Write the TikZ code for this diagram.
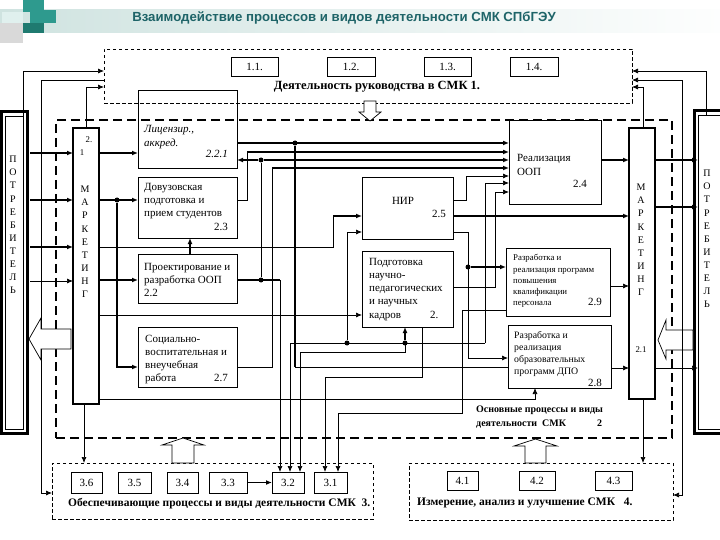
\documentclass[tikz,border=0pt]{standalone}
\usepackage{fontspec}
\setmainfont{Liberation Serif}
\newfontfamily\ttlfont{Liberation Sans}
\usetikzlibrary{arrows.meta,fit,calc}
\definecolor{teal1}{HTML}{2E9A8E}
\definecolor{teal2}{HTML}{1F7A70}
\definecolor{teallt}{HTML}{CFE3E0}
\definecolor{ttlcol}{HTML}{1E6468}
\begin{document}
\begin{tikzpicture}[x=1pt,y=-1pt,
  bx/.style={draw, line width=0.7pt, inner sep=0pt, outer sep=0pt},
  mk/.style={draw, line width=1.8pt, inner sep=0pt, outer sep=0pt},
  dsh/.style={draw, line width=0.6pt, dash pattern=on 3.5pt off 2.5pt, inner sep=0pt, outer sep=0pt},
  tdsh/.style={draw, line width=1.7pt, dash pattern=on 9pt off 5pt, inner sep=0pt, outer sep=0pt},
  thn/.style={line width=0.7pt},
  thk/.style={line width=1.7pt},
  arr/.style={-{Latex[length=6pt,width=5pt]}},
  dot/.style={circle, fill, inner sep=0pt, minimum size=5pt},
  txt/.style={inner sep=0pt, font=\fontsize{11}{13}\selectfont},
  sml/.style={inner sep=0pt, font=\fontsize{8.8}{11.4}\selectfont},
  mid/.style={inner sep=0pt, font=\fontsize{9.8}{12}\selectfont},
  lbl/.style={inner sep=0pt, font=\fontsize{11}{13}\selectfont\bfseries},
  vlet/.style={inner sep=0pt, align=center, font=\fontsize{10}{13.1}\selectfont},
  hol/.style={draw, line width=0.7pt, fill=white}
]
\useasboundingbox (0,0) rectangle (720,540);
% header band and decoration
\shade[left color=teallt, right color=white!96!teallt] (0,10) rectangle (720,33);
\fill[teal1] (23,0) rectangle (44,12);
\fill[white!85!teal1] (2,12) rectangle (23,23);
\fill[teal1] (30,10) rectangle (56,23);
\fill[teal2] (23,23) rectangle (44,33);
\fill[black!15] (0,23) rectangle (23,43);
\node[inner sep=0pt, text=ttlcol, font=\ttlfont\fontsize{13.2}{15}\selectfont\bfseries] (title) at (344,18) {Взаимодействие процессов и видов деятельности СМК СПбГЭУ};

% ---------- containers
\node[dsh, fit={(104,49)(632,103)}] (top) {};
\node[tdsh, fit={(56,120)(672,438)}] (main) {};
\node[dsh, fit={(52,463)(373,519)}] (s3) {};
\node[dsh, fit={(409,463)(673,520)}] (s4) {};

% top boxes
\node[bx, fit={(231,57)(278,76)}] (b11) {};
\node[bx, fit={(327,57)(375,76)}] (b12) {};
\node[bx, fit={(424,57)(471,76)}] (b13) {};
\node[bx, fit={(510,57)(558,76)}] (b14) {};
\node[txt] (t11) at (b11.center) {1.1.};
\node[txt] (t12) at (b12.center) {1.2.};
\node[txt] (t13) at (b13.center) {1.3.};
\node[txt] (t14) at (b14.center) {1.4.};
\node[lbl, font=\fontsize{12.5}{14}\selectfont\bfseries] (ttop) at (377,87) {Деятельность руководства в СМК 1.};

% block arrow down from top
\draw[hol] (364,101) -- (376,101) -- (376,112) -- (381,112) -- (370,121) -- (359,112) -- (364,112) -- cycle;

% consumers
\draw[line width=3pt] (1.5,112) rectangle (27,433);
\node[bx, fit={(5,116)(23.5,429)}] (pl) {};
\draw[line width=3pt] (694.5,111) rectangle (721,433);
\node[bx, fit={(698,115)(721,429)}] (pr) {};
\node[vlet, anchor=north] (tpl) at (13,156) {П\\О\\Т\\Р\\Е\\Б\\И\\Т\\Е\\Л\\Ь};
\node[vlet, anchor=north] (tpr) at (707,170) {П\\О\\Т\\Р\\Е\\Б\\И\\Т\\Е\\Л\\Ь};

% marketing
\node[mk, fit={(73,128)(99,404)}] (mkl) {};
\node[mk, fit={(629,128)(655,399)}] (mkr) {};
\node[vlet, anchor=north] (tml) at (85,186) {М\\А\\Р\\К\\Е\\Т\\И\\Н\\Г};
\node[vlet, anchor=north] (tmr) at (641,184) {М\\А\\Р\\К\\Е\\Т\\И\\Н\\Г};
\node[sml] (tml2) at (89,140) {2.};
\node[sml] (tml1) at (82,153) {1};
\node[sml] (tmr21) at (641,350) {2.1};

% inner boxes
\node[bx, fit={(138,90)(237,168)}] (lic) {};
\node[bx, fit={(138,177)(237,238)}] (dov) {};
\node[bx, fit={(138,254)(237,303)}] (proj) {};
\node[bx, fit={(138,327)(237,387)}] (soc) {};
\node[bx, fit={(362,177)(453,239)}] (nir) {};
\node[bx, fit={(362,251)(453,327)}] (podg) {};
\node[bx, fit={(509,120)(601,204)}] (real) {};
\node[bx, fit={(506,248)(610,316)}] (p29) {};
\node[bx, fit={(508,325)(611,388)}] (dpo) {};

\node[txt, anchor=base west, font=\fontsize{11}{13}\selectfont\itshape] (tlic1) at (144,133) {Лицензир.,};
\node[txt, anchor=base west, font=\fontsize{11}{13}\selectfont\itshape] (tlic2) at (144,147) {аккред.};
\node[txt, anchor=base east, font=\fontsize{11}{13}\selectfont\itshape] (tlic3) at (228,158) {2.2.1};

\node[txt, anchor=base west] (tdov1) at (144,190.5) {Довузовская};
\node[txt, anchor=base west] (tdov2) at (144,203.5) {подготовка и};
\node[txt, anchor=base west] (tdov3) at (144,216.5) {прием студентов};
\node[txt, anchor=base east] (tdov4) at (228,230.5) {2.3};

\node[txt, anchor=base west] (tpr1) at (144,270.5) {Проектирование и};
\node[txt, anchor=base west] (tpr2) at (144,283) {разработка ООП};
\node[txt, anchor=base west] (tpr3) at (144,296) {2.2};

\node[txt, anchor=base west] (tso1) at (145,342.5) {Социально-};
\node[txt, anchor=base west] (tso2) at (145,355.5) {воспитательная и};
\node[txt, anchor=base west] (tso3) at (145,368.5) {внеучебная};
\node[txt, anchor=base west] (tso4) at (145,381.5) {работа};
\node[txt, anchor=base east] (tso5) at (228,381.5) {2.7};

\node[txt, anchor=base] (tnir1) at (403,204.5) {НИР};
\node[txt, anchor=base east] (tnir2) at (446,217.5) {2.5};

\node[txt, anchor=base west] (tpo1) at (369,265.5) {Подготовка};
\node[txt, anchor=base west] (tpo2) at (369,278.5) {научно-};
\node[txt, anchor=base west] (tpo3) at (369,291.5) {педагогических};
\node[txt, anchor=base west] (tpo4) at (369,304.5) {и научных};
\node[txt, anchor=base west] (tpo5) at (369,318.5) {кадров};
\node[txt, anchor=base west] (tpo6) at (430,318.5) {2.};

\node[txt, anchor=base west] (tre1) at (517,161.5) {Реализация};
\node[txt, anchor=base west] (tre2) at (517,175.5) {ООП};
\node[txt, anchor=base west] (tre3) at (573,187.5) {2.4};

\node[sml, anchor=base west] (t291) at (513,260) {Разработка и};
\node[sml, anchor=base west] (t292) at (513,272) {реализация программ};
\node[sml, anchor=base west] (t293) at (513,283) {повышения};
\node[sml, anchor=base west] (t294) at (513,294.5) {квалификации};
\node[sml, anchor=base west] (t295) at (513,305.5) {персонала};
\node[txt, anchor=base west] (t296) at (588,305.5) {2.9};

\node[mid, anchor=base west] (t281) at (514,338.5) {Разработка и};
\node[mid, anchor=base west] (t282) at (514,350.5) {реализация};
\node[mid, anchor=base west] (t283) at (514,362.5) {образовательных};
\node[mid, anchor=base west] (t284) at (514,374) {программ ДПО};
\node[txt, anchor=base west] (t285) at (588,386.5) {2.8};

\node[lbl, anchor=base west, font=\fontsize{10}{13}\selectfont\bfseries] (tosn1) at (476,412.5) {Основные процессы и виды};
\node[lbl, anchor=base west, font=\fontsize{10}{13}\selectfont\bfseries] (tosn2) at (476,426.5) {деятельности\ \ СМК};
\node[lbl, anchor=base west, font=\fontsize{10}{13}\selectfont\bfseries] (tosn3) at (597,426.5) {2};

% section 3 boxes
\node[bx, fit={(71,472)(102,493)}] (b36) {};
\node[bx, fit={(118,472)(151,493)}] (b35) {};
\node[bx, fit={(167,472)(198,493)}] (b34) {};
\node[bx, fit={(209,472)(247,493)}] (b33) {};
\node[bx, fit={(272,472)(304,493)}] (b32) {};
\node[bx, fit={(314,472)(347,493)}] (b31) {};
\foreach \n/\t in {b36/3.6,b35/3.5,b34/3.4,b33/3.3,b32/3.2,b31/3.1}
  \node[txt] (t\n) at (\n.center) {\t};
\node[lbl, anchor=base west, font=\fontsize{11.5}{13}\selectfont\bfseries] (ts3) at (68,506.5) {Обеспечивающие процессы и виды деятельности СМК\ \ 3.};

% section 4 boxes
\node[bx, fit={(447,471)(478,490)}] (b41) {};
\node[bx, fit={(519,471)(555,490)}] (b42) {};
\node[bx, fit={(595,471)(632,490)}] (b43) {};
\foreach \n/\t in {b41/4.1,b42/4.2,b43/4.3}
  \node[txt] (t\n) at (\n.center) {\t};
\node[lbl, anchor=base west, font=\fontsize{11.5}{13}\selectfont\bfseries] (ts4) at (417,505.5) {Измерение, анализ и улучшение СМК\ \ \ 4.};

% hollow up arrows to main
\draw[hol] (172,463) -- (172,445) -- (162,445) -- (183,438) -- (204,445) -- (194,445) -- (194,463) -- cycle;
\draw[hol] (525,463) -- (525,446) -- (514,446) -- (535.5,439) -- (557,446) -- (546,446) -- (546,463) -- cycle;
% hollow arrows marketing <-> consumers
\draw[hol] (71,329) -- (41,329) -- (41,318) -- (29,339) -- (41,360) -- (41,349) -- (71,349) -- cycle;
\draw[hol] (693,330) -- (666,330) -- (666,320) -- (658,340) -- (666,359) -- (666,350) -- (693,350) -- cycle;

% ---------- external loops
\draw[thn,arr] (23,0 |- pl.north) -- (23,71) -- (top.west |- 0,71);
\draw[thn] (top.west |- 0,80) -- (41,80) -- (41,329);
\draw[thn,arr] (41,349) -- (41,493) -- (s3.west |- 0,493);
\draw[thn,arr] (86,0 |- mkl.north) -- (86,87) -- (top.west |- 0,87);
\draw[thn,arr] (706,0 |- pr.north) -- (706,71) -- (top.east |- 0,71);
\draw[thn,arr] (682,320) -- (682,80) -- (top.east |- 0,80);
\draw[thn,arr] (682,320) -- (682,495) -- (s4.east |- 0,495);
\draw[thn,arr] (643,0 |- mkr.north) -- (643,87) -- (top.east |- 0,87);
\draw[thn,arr] (84,0 |- mkl.south) -- (84,0 |- s3.north);
\draw[thn,arr] (643,0 |- mkr.south) -- (643,0 |- s4.north);

% consumers -> marketing
\draw[thk,arr] (30,153) -- (mkl.west |- 0,153);
\draw[thk,arr] (30,200) -- (mkl.west |- 0,200);
\draw[thk,arr] (30,247) -- (mkl.west |- 0,247);
\draw[thn,arr] (30,281) -- (mkl.west |- 0,281);
\draw[thk,arr] (mkr.east |- 0,160) -- (pr.west |- 0,160);
\draw[thk,arr] (mkr.east |- 0,207) -- (pr.west |- 0,207);
\draw[thn,arr] (mkr.east |- 0,368) -- (pr.west |- 0,368);

% left marketing outputs
\draw[thk,arr] (mkl.east |- 0,153) -- (lic.west |- 0,153);
\draw[thk,arr] (mkl.east |- 0,200) -- (dov.west |- 0,200);
\node[dot] (d117) at (117,200) {};
\draw[thk,arr] (d117) -- (117,367) -- (soc.west |- 0,367);
\draw[thn] (mkl.east |- 0,247) -- (333,247) -- (333,216);
\draw[thk,arr] (333,216) -- (nir.west |- 0,216);
\draw[thk,arr] (mkl.east |- 0,280) -- (proj.west |- 0,280);
\draw[thn,arr] (mkl.east |- 0,315) -- (podg.west |- 0,315);
\draw[thn,arr] (mkl.east |- 0,399) -- (535,399) -- (535,0 |- dpo.south);
\draw[thk,arr] (190,0 |- proj.north) -- (190,0 |- dov.south);

% bus to realization
\draw[thk,arr] (lic.east |- 0,143) -- (real.west |- 0,143);
\node[dot] (d295) at (295,143) {};
\draw[thk] (d295) -- (295,367);
\draw[thn] (295,367) -- (dpo.west |- 0,367);
\draw[thn] (dov.east |- 0,200) -- (247,200) -- (247,152);
\draw[thk,arr] (247,152) -- (real.west |- 0,152);
\node[dot] (d261a) at (261,160) {};
\draw[thk,arr] (d261a) -- (lic.east |- 0,160);
\draw[thk,arr] (d261a) -- (real.west |- 0,160);
\node[dot] (d261b) at (261,280) {};
\draw[thn] (d261a) -- (d261b);
\draw[thk] (proj.east |- 0,280) -- (280,280);
\draw[thn,arr] (280,280) -- (280,0 |- b32.north);
\draw[thn] (soc.east |- 0,367) -- (272,367) -- (272,168);
\draw[thk,arr] (272,168) -- (real.west |- 0,168);
\draw[thn,arr] (nir.east |- 0,200) -- (466,200) -- (466,176) -- (real.west |- 0,176);
\draw[thn,arr] (485,343) -- (485,183) -- (real.west |- 0,183);
\draw[thn,arr] (podg.east |- 0,287) -- (495,287) -- (495,192) -- (real.west |- 0,192);

% outputs to right marketing
\draw[thk,arr] (real.east |- 0,160) -- (mkr.west |- 0,160);
\draw[thk,arr] (nir.east |- 0,216) -- (mkr.west |- 0,216);
\draw[thn,arr] (p29.east |- 0,286) -- (mkr.west |- 0,286);
\draw[thn,arr] (dpo.east |- 0,368) -- (mkr.west |- 0,368);

% NIR lower output to 2.9 and 2.8
\draw[thn,arr] (nir.east |- 0,232) -- (468,232) -- (468,358) -- (dpo.west |- 0,358);
\node[dot] (d468) at (468,267) {};
\draw[thk,arr] (d468) -- (p29.west |- 0,267);

% lower distribution
\node[dot] (d347) at (347,343) {};
\draw[thn,arr] (d347) -- (347,232) -- (nir.west |- 0,232);
\node[dot] (d405) at (405,343) {};
\draw[thn] (290,343) -- (485,343);
\draw[thn,arr] (290,343) -- (290,0 |- b32.north);
\draw[thk,arr] (d405) -- (405,0 |- podg.south);
\draw[thn] (405,343) -- (405,352) -- (300,352);
\draw[thn,arr] (300,352) -- (300,0 |- b32.north);
\draw[thn,arr] (422,0 |- podg.south) -- (422,377) -- (325,377) -- (325,0 |- b31.north);
\draw[thn,arr] (p29.west |- 0,310) -- (462,310) -- (462,413) -- (338,413) -- (338,0 |- b31.north);
\draw[thk,arr] (b33.east) -- (b32.west);
\end{tikzpicture}
\end{document}
